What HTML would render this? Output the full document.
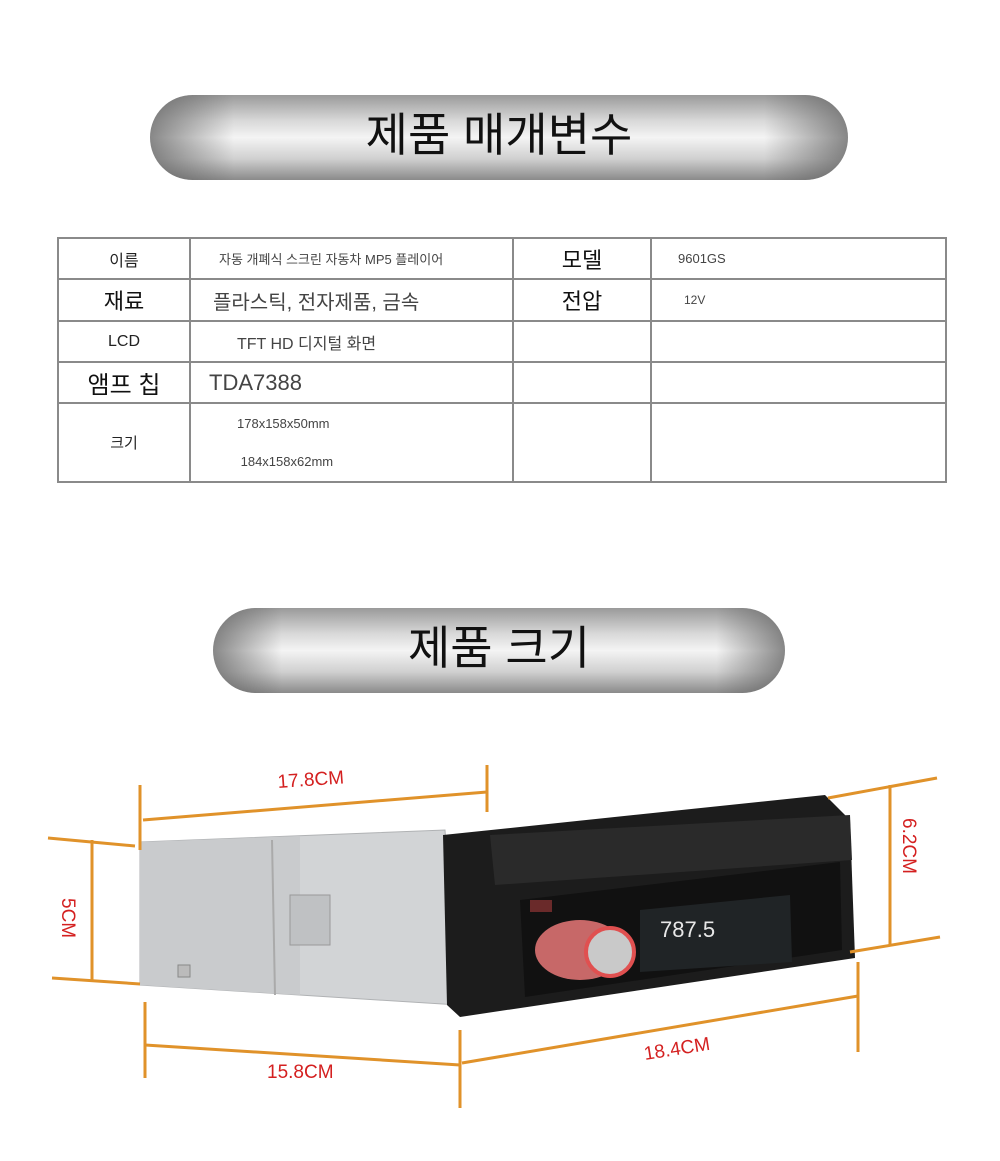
<!DOCTYPE html>
<html><head><meta charset="utf-8"><style>
body{margin:0;width:1000px;height:1161px;background:#fff;position:relative;font-family:"Liberation Sans","Noto Sans CJK KR",sans-serif;overflow:hidden}
.ban{position:absolute;border-radius:45px;background:linear-gradient(180deg,#9a9a9a 0%,#d8d8d8 30%,#f4f4f4 50%,#d0d0d0 75%,#8a8a8a 100%);display:flex;align-items:center;justify-content:center;font-size:46px;color:#111;font-weight:normal}
.ban::before{content:"";position:absolute;inset:0;border-radius:45px;background:linear-gradient(90deg,rgba(90,90,90,.7),rgba(255,255,255,0) 12%,rgba(255,255,255,0) 88%,rgba(90,90,90,.7))}
.ban span{position:relative;margin-top:-12px}
table{position:absolute;left:57px;top:237px;border-collapse:collapse;table-layout:fixed;width:888px}
td{border:2px solid #8a8a8a;padding:0;color:#444;vertical-align:middle;overflow:hidden;white-space:nowrap}
</style></head><body>
<div class="ban" style="left:150px;top:95px;width:698px;height:85px"><span>제품 매개변수</span></div>
<div class="ban" style="left:213px;top:608px;width:572px;height:85px"><span>제품 크기</span></div>
<table>
<colgroup><col style="width:132px"><col style="width:323px"><col style="width:138px"><col style="width:295px"></colgroup>
<tr style="height:41px"><td style="text-align:center;font-size:16px;color:#222">이름</td><td style="font-size:13px;padding-left:28px">자동 개폐식 스크린 자동차 MP5 플레이어</td><td style="text-align:center;font-size:22px;color:#111">모델</td><td style="font-size:13px;padding-left:26px">9601GS</td></tr>
<tr style="height:42px"><td style="text-align:center;font-size:22px;color:#111">재료</td><td style="font-size:20px;padding-left:22px">플라스틱, 전자제품, 금속</td><td style="text-align:center;font-size:22px;color:#111">전압</td><td style="font-size:12px;padding-left:32px">12V</td></tr>
<tr style="height:41px"><td style="text-align:center;font-size:16px;color:#222">LCD</td><td style="font-size:16px;padding-left:46px">TFT HD 디지털 화면</td><td></td><td></td></tr>
<tr style="height:41px"><td style="text-align:center;font-size:24px;color:#111">앰프 칩</td><td style="font-size:22px;padding-left:18px">TDA7388</td><td></td><td></td></tr>
<tr style="height:79px"><td style="text-align:center;font-size:15px;color:#222">크기</td><td style="font-size:13px;padding-left:46px;line-height:38px">178x158x50mm<br>&nbsp;184x158x62mm</td><td></td><td></td></tr>
</table>
<svg width="1000" height="1161" style="position:absolute;left:0;top:0">
<polygon points="140,842 445,830 458,1005 140,985" fill="#d2d4d6" stroke="#b0b2b4"/>
<polygon points="140,842 300,836 300,995 140,985" fill="#c9cbcd"/>
<line x1="272" y1="840" x2="275" y2="995" stroke="#aaa" stroke-width="2"/>
<rect x="290" y="895" width="40" height="50" fill="#bfc1c3" stroke="#999"/>
<rect x="178" y="965" width="12" height="12" fill="#bbb" stroke="#888"/>
<polygon points="443,835 825,795 850,820 855,958 460,1017 447,1005" fill="#1c1c1c"/>
<polygon points="490,835 850,815 852,860 495,885" fill="#2a2a2a"/>
<polygon points="520,900 840,862 842,950 525,997" fill="#111"/>
<polygon points="640,910 790,895 792,962 640,972" fill="#202426"/>
<text x="660" y="937" font-size="22" fill="#e8e8e8" font-family="Liberation Sans">787.5</text>
<ellipse cx="580" cy="950" rx="45" ry="30" fill="#e87878" opacity=".85"/>
<circle cx="610" cy="952" r="24" fill="#c9c9c9" stroke="#e05050" stroke-width="4"/>
<rect x="530" y="900" width="22" height="12" fill="#6a2a2a"/>
<g stroke="#e0922a" stroke-width="3" fill="none">
<line x1="140" y1="785" x2="140" y2="850"/><line x1="487" y1="765" x2="487" y2="812"/><line x1="143" y1="820" x2="487" y2="792"/>
<line x1="48" y1="838" x2="135" y2="846"/><line x1="52" y1="978" x2="140" y2="984"/><line x1="92" y1="840" x2="92" y2="980"/>
<line x1="828" y1="798" x2="937" y2="778"/><line x1="850" y1="952" x2="940" y2="937"/><line x1="890" y1="785" x2="890" y2="945"/>
<line x1="145" y1="1002" x2="145" y2="1078"/><line x1="460" y1="1030" x2="460" y2="1108"/><line x1="145" y1="1045" x2="460" y2="1065"/>
<line x1="462" y1="1063" x2="858" y2="996"/><line x1="858" y1="962" x2="858" y2="1052"/>
</g>
<g fill="#d42020" font-size="19" font-family="Liberation Sans">
<text x="278" y="788" transform="rotate(-4 278 788)">17.8CM</text>
<text x="62" y="898" transform="rotate(90 62 898)">5CM</text>
<text x="903" y="818" transform="rotate(90 903 818)">6.2CM</text>
<text x="267" y="1078">15.8CM</text>
<text x="645" y="1060" transform="rotate(-9 645 1060)">18.4CM</text>
</g>
</svg>
</body></html>
